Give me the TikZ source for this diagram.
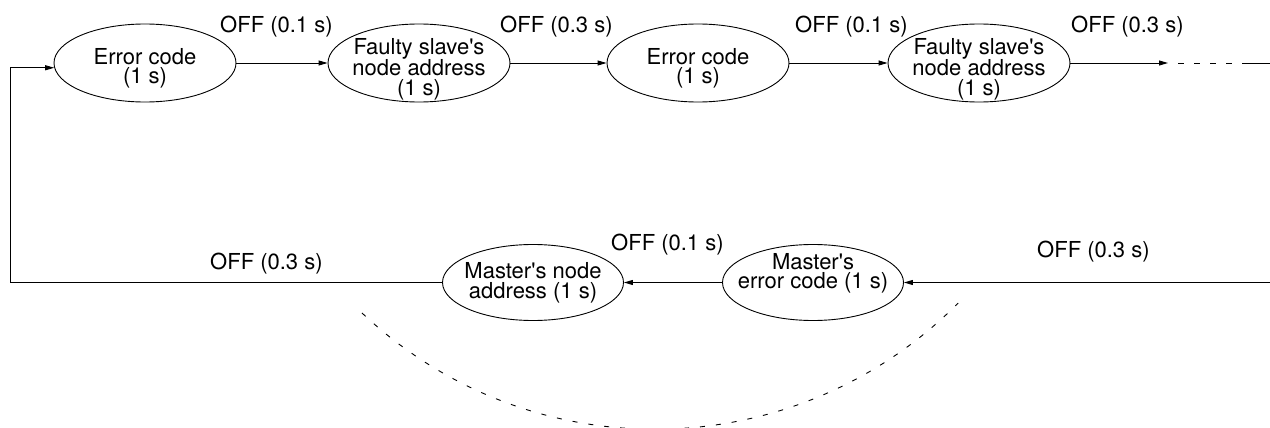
\documentclass[tikz,border=0pt]{standalone}
\usepackage{fontspec}
\setmainfont{TeX Gyre Heros}
\usetikzlibrary{arrows.meta,shapes.geometric}
\begin{document}
\begin{tikzpicture}[x=1pt,y=1pt,
  ell/.style={draw, ellipse, line width=0.9pt, minimum width=182pt, minimum height=78pt, inner sep=0pt},
  txt/.style={align=center, inner sep=0pt, font=\fontsize{22}{19.5}\selectfont},
  lbl/.style={anchor=base west, inner sep=0pt, font=\fontsize{22}{26}\selectfont},
  arr/.style={line width=0.9pt, -{Triangle[length=9pt,width=5pt]}},
  ln/.style={line width=0.9pt},
  dashln/.style={line width=0.9pt, dash pattern=on 6pt off 10pt, dash phase=6pt},
  arcd/.style={line width=0.9pt, dash pattern=on 5pt off 11pt}]
\useasboundingbox (0,0) rectangle (1270,-428);
% top row
\node[ell] (e1) at (145,-63) {};
\node[ell] (e2) at (419,-63) {};
\node[ell] (e3) at (698,-63) {};
\node[ell] (e4) at (979,-63) {};
\node[txt, yshift=-5.5pt] (t1txt) at (e1) {Error code\\(1 s)};
\node[txt, yshift=-6pt] (t2txt) at (e2) {Faulty slave\textquotesingle s\\node address\\(1 s)};
\node[txt, yshift=-5.5pt] (t3txt) at (e3) {Error code\\(1 s)};
\node[txt, yshift=-6pt] (t4txt) at (e4) {Faulty slave\textquotesingle s\\node address\\(1 s)};
% bottom row
\node[ell, minimum width=181pt, minimum height=76pt] (mna) at (533,-282.5) {};
\node[ell, minimum width=181pt, minimum height=76pt] (mec) at (813,-282.5) {};
\node[txt, yshift=-0.5pt] (mnatxt) at (mna) {Master\textquotesingle s node\\address (1 s)};
\node[txt, yshift=9pt] (mectxt) at (mec) {Master\textquotesingle s\\error code (1 s)};
% labels
\node[lbl] (l1) at (220,-33) {OFF (0.1 s)};
\node[lbl] (l2) at (500,-33) {OFF (0.3 s)};
\node[lbl] (l3) at (795,-33) {OFF (0.1 s)};
\node[lbl] (l4) at (1071,-33) {OFF (0.3 s)};
\node[lbl] (l5) at (210,-269) {OFF (0.3 s)};
\node[lbl] (l6) at (611,-250) {OFF (0.1 s)};
\node[lbl] (l7) at (1037,-257) {OFF (0.3 s)};
% coordinates
\coordinate (c1) at (1168,-63);
\coordinate (c2) at (1247,-63);
\coordinate (c3) at (1270,-63);
\coordinate (rin) at (1270,-282.5);
\coordinate (lp) at (10,-282.5);
% connectors
\draw[arr] (e1) -- (e2);
\draw[arr] (e2) -- (e3);
\draw[arr] (e3) -- (e4);
\draw[arr] (e4) -- (c1);
\draw[dashln] (c1) -- (c2);
\draw[ln] (c2) -- (c3);
\draw[arr] (rin) -- (mec);
\draw[arr] (mec) -- (mna);
\draw[arr] (mna.west) -- (lp) |- (e1.183);
% dashed arc
\draw[arcd] (655,-2) ++(226.7:427.3) arc[start angle=226.7, end angle=315.2, radius=427.3];
\end{tikzpicture}
\end{document}
